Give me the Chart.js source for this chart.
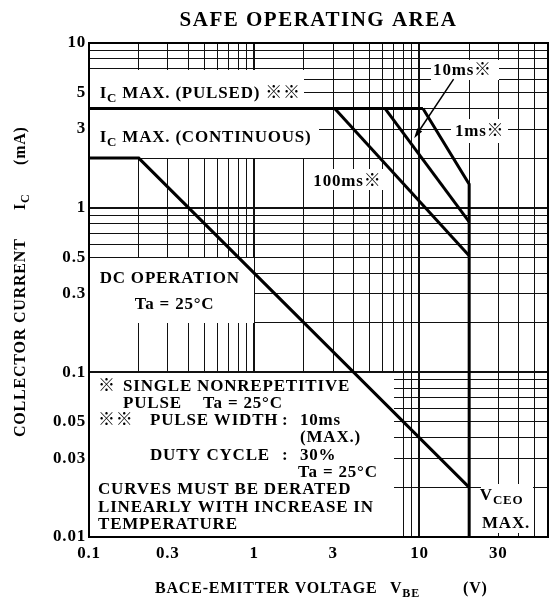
<!DOCTYPE html>
<html>
<head>
<meta charset="utf-8">
<script src="https://cdn.jsdelivr.net/npm/chart.js@4.4.1/dist/chart.umd.min.js"></script>
<style>
  html, body { margin: 0; padding: 0; background: #fff; }
  canvas { display: block; }
</style>
</head>
<body>
<canvas id="soaChart" width="554" height="601"></canvas>
<script>
// Safe operating area, log-log: collector current (mA) vs voltage (V)
const voltageGrid = [0.1, 0.2, 0.3, 0.4, 0.5, 0.6, 0.7, 0.8, 0.9, 1, 2, 3, 4, 5, 6, 7, 8, 9, 10, 20, 30, 40, 50, 60];
const currentGrid = [0.01, 0.02, 0.03, 0.04, 0.05, 0.06, 0.07, 0.08, 0.09, 0.1, 0.2, 0.3, 0.4, 0.5, 0.6, 0.7, 0.8, 0.9, 1, 2, 3, 4, 5, 6, 7, 8, 9, 10];
const voltageLabels = [0.1, 0.3, 1, 3, 10, 30];
const currentLabels = [0.01, 0.03, 0.05, 0.1, 0.3, 0.5, 1, 3, 5, 10];

// boundary curves
const dcVoltage = [0.1, 0.2, 20];
const dcCurrent = [2, 2, 0.02];
const pulsedVoltage = [0.1, 10.5];
const pulsedCurrent = [4, 4];
const ms100Voltage = [3.07, 20];
const ms100Current = [4, 0.51];
const ms10Voltage = [6.2, 20];
const ms10Current = [4, 0.82];
const ms1Voltage = [10.5, 20, 20];
const ms1Current = [4, 1.39, 0.01];

const pts = (xs, ys) => xs.map((v, k) => ({x: v, y: ys[k]}));
const near = (a, b) => Math.abs(a - b) / b < 1e-6;
const isDecade = v => near(Math.pow(10, Math.round(Math.log10(v))), v);

const SERIF = '"Liberation Serif", "DejaVu Serif", serif';
const SYM = '"Noto Sans CJK JP", "Liberation Serif", serif';

// white patches behind the labels: [vMin, vMax, iMin, iMax]
const blanks = [
  [0.1, 2, 4, 7],
  [0.1, 2.45, 2, 4],
  [11.6, 30.5, 6, 8],
  [15.4, 34.3, 2.47, 3.5],
  [2.18, 6.25, 1.28, 1.74],
  [0.1, 1, 0.2, 0.5],
  [0.1, 7, 0.01, 0.1],
  [23.2, 49, 0.0106, 0.0213]
];

function drawText(ctx, txt, x, y, size) {
  // split so the reference mark uses a font that has it
  const bits = txt.split(/(※+)/).filter(s => s.length);
  bits.forEach(b => {
    ctx.font = 'bold ' + size + 'px ' + (b[0] === '※' ? SYM : SERIF);
    ctx.fillText(b, x, y);
    x += ctx.measureText(b).width;
  });
  return x;
}

function drawParts(ctx, parts, x, y, size) {
  parts.forEach(p => {
    if (p[1] === 1) x = drawText(ctx, p[0], x, y + 4, size - 4);
    else x = drawText(ctx, p[0], x, y, size);
  });
  return x;
}

const soaDecor = {
  id: 'soaDecor',
  beforeDraw(chart) {
    chart.ctx.letterSpacing = '0.8px';
  },
  beforeDatasetsDraw(chart) {
    const {ctx, scales: {x, y}} = chart;
    ctx.save();
    ctx.fillStyle = '#fff';
    blanks.forEach(b => {
      const l = Math.round(x.getPixelForValue(b[0])) + 1;
      const r = Math.round(x.getPixelForValue(b[1]));
      const t = Math.round(y.getPixelForValue(b[3])) + 1;
      const bt = Math.round(y.getPixelForValue(b[2]));
      ctx.fillRect(l, t, r - l, bt - t);
    });
    ctx.restore();
  },
  afterDatasetsDraw(chart) {
    const {ctx, chartArea: a, scales: {x, y}} = chart;
    const px = v => x.getPixelForValue(v);
    const py = v => y.getPixelForValue(v);
    ctx.save();
    ctx.letterSpacing = '0.8px';
    ctx.fillStyle = '#000';
    ctx.strokeStyle = '#000';
    ctx.textBaseline = 'alphabetic';
    ctx.textAlign = 'left';

    // frame
    ctx.lineWidth = 2;
    ctx.strokeRect(a.left, a.top, a.right - a.left, a.bottom - a.top);

    // curve labels
    drawParts(ctx, [['I'], ['C', 1], [' MAX. (PULSED) ※※']], px(0.116), py(4.63), 17);
    drawParts(ctx, [['I'], ['C', 1], [' MAX. (CONTINUOUS)']], px(0.116), py(2.52), 17);
    drawText(ctx, '10ms※', px(12.1), py(6.39), 17);
    drawText(ctx, '1ms※', px(16.4), py(2.72), 17);
    drawText(ctx, '100ms※', px(2.28), py(1.355), 17);
    drawText(ctx, 'DC OPERATION', px(0.116), py(0.349), 17);
    drawText(ctx, 'Ta = 25°C', px(0.189), py(0.2427), 17);
    drawParts(ctx, [['V'], ['CEO', 1]], px(23.2), py(0.0168), 17);
    drawText(ctx, 'MAX.', px(23.9), py(0.01134), 17);

    // arrow to the 10 ms curve
    const x0 = px(16.1), y0 = py(6.03), x1 = px(9.29), y1 = py(2.64);
    const ang = Math.atan2(y1 - y0, x1 - x0);
    ctx.lineWidth = 1.5;
    ctx.beginPath();
    ctx.moveTo(x0, y0);
    ctx.lineTo(x1 - 6 * Math.cos(ang), y1 - 6 * Math.sin(ang));
    ctx.stroke();
    ctx.beginPath();
    ctx.moveTo(x1, y1);
    ctx.lineTo(x1 - 10 * Math.cos(ang) + 3 * Math.sin(ang), y1 - 10 * Math.sin(ang) - 3 * Math.cos(ang));
    ctx.lineTo(x1 - 10 * Math.cos(ang) - 3 * Math.sin(ang), y1 - 10 * Math.sin(ang) + 3 * Math.cos(ang));
    ctx.closePath();
    ctx.fill();

    // notes block, anchored at the corner (0.1 V, 0.1 mA)
    const nx = px(0.1), ny = py(0.1);
    const notes = [
      ['※', 9, 18.7], ['SINGLE NONREPETITIVE', 34, 18.7],
      ['PULSE', 34, 36], ['Ta = 25°C', 114, 36],
      ['※※', 9, 53], ['PULSE WIDTH', 61, 53], [':', 193, 53], ['10ms', 211, 53],
      ['(MAX.)', 211, 70],
      ['DUTY CYCLE', 61, 87.7], [':', 193, 87.7], ['30%', 211, 87.7],
      ['Ta = 25°C', 209, 105],
      ['CURVES MUST BE DERATED', 9, 122],
      ['LINEARLY WITH INCREASE IN', 9, 139.7],
      ['TEMPERATURE', 9, 157]
    ];
    notes.forEach(n => drawText(ctx, n[0], nx + n[1], ny + n[2], 17));

    // chart title
    ctx.letterSpacing = '1.5px';
    ctx.font = 'bold 21px ' + SERIF;
    ctx.textAlign = 'center';
    ctx.fillText('SAFE OPERATING AREA', (a.left + a.right) / 2, 26);
    ctx.textAlign = 'left';

    // x axis title
    ctx.letterSpacing = '0.8px';
    drawText(ctx, 'BACE-EMITTER VOLTAGE', 155, 593, 16);
    drawParts(ctx, [['V'], ['BE', 1]], 390, 593, 16);
    drawText(ctx, '(V)', 463, 593, 16);

    // y axis title
    ctx.translate(25, 437);
    ctx.rotate(-Math.PI / 2);
    drawText(ctx, 'COLLECTOR CURRENT', 0, 0, 16);
    drawParts(ctx, [['I'], ['C', 1]], 227, 0, 16);
    drawText(ctx, '(mA)', 272, 0, 16);
    ctx.restore();
  }
};

const lineStyle = {showLine: true, pointRadius: 0, borderColor: '#000', borderWidth: 3, fill: false, tension: 0};

new Chart(document.getElementById('soaChart'), {
  type: 'scatter',
  data: {
    datasets: [
      Object.assign({label: 'DC', data: pts(dcVoltage, dcCurrent)}, lineStyle),
      Object.assign({label: 'Pulsed max', data: pts(pulsedVoltage, pulsedCurrent)}, lineStyle),
      Object.assign({label: '100ms', data: pts(ms100Voltage, ms100Current)}, lineStyle),
      Object.assign({label: '10ms', data: pts(ms10Voltage, ms10Current)}, lineStyle),
      Object.assign({label: '1ms', data: pts(ms1Voltage, ms1Current)}, lineStyle)
    ]
  },
  options: {
    responsive: false,
    animation: false,
    devicePixelRatio: 1,
    layout: {padding: {top: 43, right: 2, left: 0, bottom: 0}},
    plugins: {legend: {display: false}, tooltip: {enabled: false}},
    scales: {
      x: {
        type: 'logarithmic',
        min: 0.1,
        max: 60,
        border: {display: false},
        grid: {color: '#111', lineWidth: c => (c.tick && isDecade(c.tick.value) ? 2 : 1), drawTicks: false},
        ticks: {
          autoSkip: false, maxRotation: 0, padding: 6, color: '#000',
          font: {family: SERIF, size: 17, weight: 'bold'},
          callback: v => (voltageLabels.some(l => near(v, l)) ? String(v) : '')
        },
        afterBuildTicks: s => { s.ticks = voltageGrid.map(v => ({value: v})); },
        afterFit: s => { s.height = 64; }
      },
      y: {
        type: 'logarithmic',
        min: 0.01,
        max: 10,
        border: {display: false},
        grid: {color: '#111', lineWidth: c => (c.tick && isDecade(c.tick.value) ? 2 : 1), drawTicks: false},
        ticks: {
          autoSkip: false, padding: 3, color: '#000',
          font: {family: SERIF, size: 17, weight: 'bold'},
          callback: v => (currentLabels.some(l => near(v, l)) ? String(v) : '')
        },
        afterBuildTicks: s => { s.ticks = currentGrid.map(v => ({value: v})); },
        afterFit: s => { s.width = 89; }
      }
    }
  },
  plugins: [soaDecor]
});
</script>
</body>
</html>
